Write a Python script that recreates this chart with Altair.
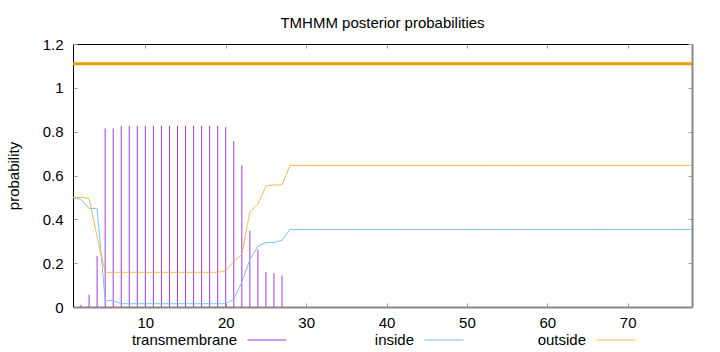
import altair as alt
import pandas as pd

# ---- data ----
positions = list(range(1, 79))

tm_prob = [
    0.0, 0.01, 0.055, 0.233, 0.815, 0.815, 0.827, 0.827, 0.827, 0.827,
    0.827, 0.827, 0.827, 0.827, 0.827, 0.827, 0.827, 0.827, 0.827, 0.821,
    0.757, 0.646, 0.348, 0.262, 0.160, 0.154, 0.143, 0.0, 0.0, 0.0,
    0.0, 0.0, 0.0, 0.0, 0.0, 0.0, 0.0, 0.0, 0.0, 0.0,
    0.0, 0.0, 0.0, 0.0, 0.0, 0.0, 0.0, 0.0, 0.0, 0.0,
    0.0, 0.0, 0.0, 0.0, 0.0, 0.0, 0.0, 0.0, 0.0, 0.0,
    0.0, 0.0, 0.0, 0.0, 0.0, 0.0, 0.0, 0.0, 0.0, 0.0,
    0.0, 0.0, 0.0, 0.0, 0.0, 0.0, 0.0, 0.0,
]

inside_prob = [
    0.50, 0.49, 0.45, 0.45, 0.029, 0.029, 0.015, 0.015, 0.015, 0.015,
    0.015, 0.015, 0.015, 0.015, 0.015, 0.015, 0.015, 0.015, 0.015, 0.015,
    0.035, 0.113, 0.217, 0.278, 0.294, 0.294, 0.304, 0.354, 0.354, 0.354,
    0.354, 0.354, 0.354, 0.354, 0.354, 0.354, 0.354, 0.354, 0.354, 0.354,
    0.354, 0.354, 0.354, 0.354, 0.354, 0.354, 0.354, 0.354, 0.354, 0.354,
    0.354, 0.354, 0.354, 0.354, 0.354, 0.354, 0.354, 0.354, 0.354, 0.354,
    0.354, 0.354, 0.354, 0.354, 0.354, 0.354, 0.354, 0.354, 0.354, 0.354,
    0.354, 0.354, 0.354, 0.354, 0.354, 0.354, 0.354, 0.354,
]

outside_prob = [
    0.50, 0.50, 0.495, 0.32, 0.158, 0.158, 0.158, 0.158, 0.158, 0.158,
    0.158, 0.158, 0.158, 0.158, 0.158, 0.158, 0.158, 0.158, 0.158, 0.166,
    0.208, 0.240, 0.434, 0.469, 0.552, 0.557, 0.557, 0.646, 0.646, 0.646,
    0.646, 0.646, 0.646, 0.646, 0.646, 0.646, 0.646, 0.646, 0.646, 0.646,
    0.646, 0.646, 0.646, 0.646, 0.646, 0.646, 0.646, 0.646, 0.646, 0.646,
    0.646, 0.646, 0.646, 0.646, 0.646, 0.646, 0.646, 0.646, 0.646, 0.646,
    0.646, 0.646, 0.646, 0.646, 0.646, 0.646, 0.646, 0.646, 0.646, 0.646,
    0.646, 0.646, 0.646, 0.646, 0.646, 0.646, 0.646, 0.646,
]

series_names = ["transmembrane", "inside", "outside"]
series_colors = ["#a838e2", "#7cc2ee", "#efb238"]
topology_color = "#e69f00"

topology_start = [1]
topology_end = [78]
topology_level = [1.11]

x_ticks = [10, 20, 30, 40, 50, 60, 70]
y_ticks = [0, 0.2, 0.4, 0.6, 0.8, 1.0, 1.2]

# ---- tables ----
tm_df = pd.DataFrame({"pos": positions, "prob": tm_prob, "series": series_names[0]})
in_df = pd.DataFrame({"pos": positions, "prob": inside_prob, "series": series_names[1]})
out_df = pd.DataFrame({"pos": positions, "prob": outside_prob, "series": series_names[2]})
bar_df = pd.DataFrame({"x0": topology_start, "x1": topology_end, "lvl": topology_level})

W, H = 619, 263
FONT = "Liberation Sans"

xs = alt.Scale(domain=[1, 78], nice=False, zero=False)
ys = alt.Scale(domain=[0, 1.2], nice=False, zero=False)


def key_legend(x_pos, **extra):
    # gnuplot-style key entry: label on the left, line sample on the right
    return alt.Legend(
        title=None, orient="none", legendX=x_pos, legendY=276,
        symbolType="stroke", symbolSize=1521, symbolStrokeWidth=1,
        labelAlign="right", labelOffset=alt.ExprRef("-50"), labelFontSize=15,
        labelFont=FONT, labelColor="black", labelLimit=300, **extra,
    )


tick_color = "#999999"
neg_h = alt.ExprRef(f"-{H}")
neg_w = alt.ExprRef(f"-{W}")

ax_x_main = alt.Axis(orient="bottom", values=x_ticks, ticks=False, labelPadding=8,
                     domain=True, domainColor="#888888", domainWidth=2, grid=False,
                     title=None, labelFlush=False)
ax_x_in_bottom = alt.Axis(orient="top", offset=neg_h, values=x_ticks, ticks=True, tickSize=4,
                          tickColor=tick_color, labels=False, domain=False, grid=False, title=None)
ax_x_in_top = alt.Axis(orient="bottom", offset=neg_h, values=x_ticks, ticks=True, tickSize=4,
                       tickColor=tick_color, labels=False, domain=True, domainColor="black",
                       domainWidth=1, grid=False, title=None)
ax_x_none = alt.Axis(orient="bottom", labels=False, ticks=False, domain=False, grid=False,
                     title=None)

ax_y_main = alt.Axis(orient="left", values=y_ticks, format="~g", ticks=False, labelPadding=10,
                     domain=True, domainColor="black", domainWidth=1, grid=False,
                     title="probability", titleX=-60, titleY=H / 2, titleAngle=270,
                     titleBaseline="middle", titleAlign="center", labelFlush=False)
ax_y_in_left = alt.Axis(orient="right", offset=neg_w, values=y_ticks, ticks=True, tickSize=4,
                        tickColor=tick_color, labels=False, domain=False, grid=False, title=None)
ax_y_in_right = alt.Axis(orient="left", offset=neg_w, values=y_ticks, ticks=True, tickSize=4,
                         tickColor=tick_color, labels=False, domain=True, domainColor="#888888",
                         domainWidth=2, grid=False, title=None)
ax_y_none = alt.Axis(orient="left", labels=False, ticks=False, domain=False, grid=False,
                     title=None)

impulses = alt.Chart(tm_df).mark_rule(strokeWidth=1).encode(
    x=alt.X("pos:Q", scale=xs, axis=ax_x_main),
    y=alt.Y("prob:Q", scale=ys, axis=ax_y_main),
    y2=alt.datum(0),
    color=alt.Color("series:N",
                    scale=alt.Scale(domain=[series_names[0]], range=[series_colors[0]]),
                    legend=key_legend(174)),
)

inside_line = alt.Chart(in_df).mark_line(strokeWidth=1).encode(
    x=alt.X("pos:Q", scale=xs, axis=ax_x_in_bottom),
    y=alt.Y("prob:Q", scale=ys, axis=ax_y_in_left),
    stroke=alt.Stroke("series:N",
                      scale=alt.Scale(domain=[series_names[1]], range=[series_colors[1]]),
                      legend=key_legend(351)),
)

outside_line = alt.Chart(out_df).mark_line(strokeWidth=1, color=series_colors[2]).encode(
    x=alt.X("pos:Q", scale=xs, axis=ax_x_none),
    y=alt.Y("prob:Q", scale=ys, axis=ax_y_none),
    strokeDash=alt.StrokeDash("series:N",
                              scale=alt.Scale(domain=[series_names[2]], range=[[1, 0]]),
                              legend=key_legend(523, symbolStrokeColor=series_colors[2])),
)

topo = alt.Chart(bar_df).mark_rule(strokeWidth=3, color=topology_color).encode(
    x=alt.X("x0:Q", scale=xs, axis=ax_x_in_top),
    x2="x1:Q",
    y=alt.Y("lvl:Q", scale=ys, axis=ax_y_in_right),
)

chart = alt.layer(impulses, inside_line, outside_line, topo).resolve_axis(
    x="independent", y="independent"
).properties(
    width=W, height=H,
    autosize=alt.AutoSizeParams(type="none"),
    padding={"left": 73, "top": 44, "right": 28, "bottom": 45},
    title=alt.TitleParams(text="TMHMM posterior probabilities", fontSize=15,
                          fontWeight="normal", font=FONT, color="black",
                          offset=6, frame="group", anchor="middle"),
).configure(font=FONT).configure_view(stroke=None).configure_axis(
    labelFont=FONT, labelFontSize=15, labelColor="black",
    titleFont=FONT, titleFontSize=15, titleColor="black", titleFontWeight="normal",
)

chart.save("out.html", embed_options={"renderer": "svg", "actions": False})
